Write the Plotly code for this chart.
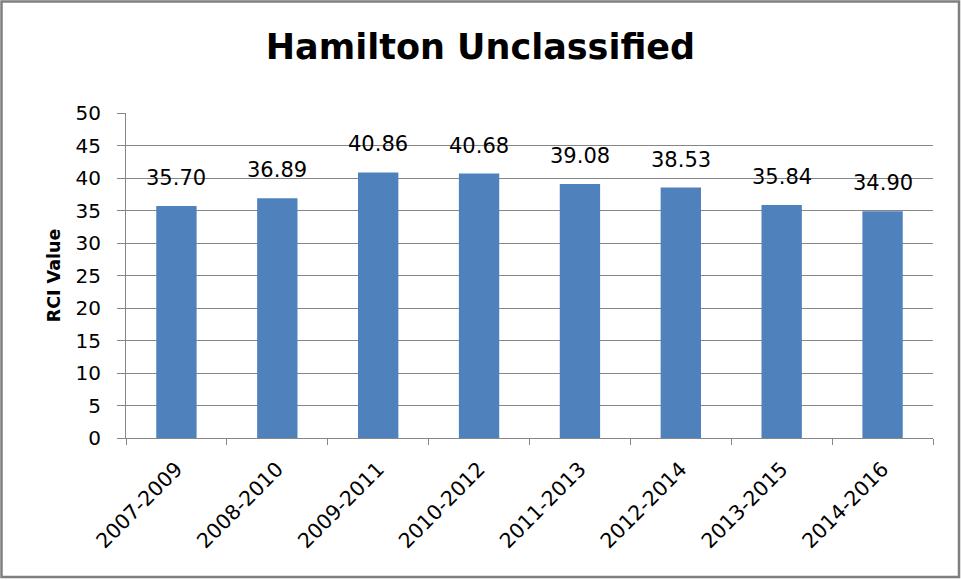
import plotly.graph_objects as go

categories = ["2007-2009", "2008-2010", "2009-2011", "2010-2012",
              "2011-2013", "2012-2014", "2013-2015", "2014-2016"]
rci_values = [35.70, 36.89, 40.86, 40.68, 39.08, 38.53, 35.84, 34.90]
value_labels = ["35.70", "36.89", "40.86", "40.68", "39.08", "38.53", "35.84", "34.90"]

W, H = 961, 580
ML, MR, MT, MB = 126, 28, 113, 142
pw = W - ML - MR
ph = H - MT - MB
FONT = "DejaVu Sans, sans-serif"

fig = go.Figure(go.Bar(
    x=categories, y=rci_values,
    marker=dict(color="#4F81BD", line=dict(width=0)),
    width=0.4, hoverinfo="x+y",
))

for cat, val, lab in zip(categories, rci_values, value_labels):
    fig.add_annotation(x=cat, y=val, text=lab, showarrow=False,
                       xanchor="center", yanchor="bottom", yshift=14,
                       font=dict(size=21, color="#000000", family=FONT))

fig.update_layout(
    width=W, height=H,
    margin=dict(l=ML, r=MR, t=MT, b=MB),
    paper_bgcolor="white", plot_bgcolor="white",
    font=dict(family=FONT, color="#000000"),
    title=dict(text="<b>Hamilton Unclassified</b>", x=0.5, xanchor="center",
               y=1 - 47 / H, yanchor="middle", font=dict(size=35, color="#000000")),
    showlegend=False,
    xaxis=dict(tickangle=-45, tickfont=dict(size=20.5), showline=True, linecolor="#868686",
               linewidth=1, ticks="outside", ticklen=6, tickcolor="#868686",
               tickson="boundaries", showgrid=False, ticklabelstandoff=10),
    yaxis=dict(range=[0, 50], dtick=5, tickfont=dict(size=20), showline=True,
               linecolor="#868686", linewidth=1, ticks="outside", ticklen=8,
               tickcolor="#868686", gridcolor="#868686", gridwidth=1,
               ticklabelstandoff=12,
               title=dict(text="<b>RCI Value</b>", font=dict(size=17.5), standoff=10),
               zeroline=False),
)

# outer chart border
fig.add_shape(type="rect", xref="paper", yref="paper",
              x0=(1.5 - ML) / pw, x1=(W - 2 - ML) / pw,
              y0=-(MB - 3) / ph, y1=(ph + MT - 1.5) / ph,
              line=dict(color="#7F7F7F", width=2.5), fillcolor="rgba(0,0,0,0)")

fig.write_html("out.html", config={"displayModeBar": False},
               post_script="document.body.style.margin='0';")
